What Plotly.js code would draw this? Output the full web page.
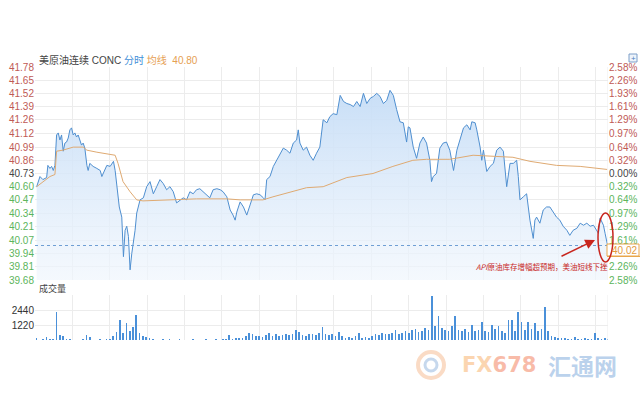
<!DOCTYPE html>
<html>
<head>
<meta charset="utf-8">
<script src="https://cdn.plot.ly/plotly-3.0.1.min.js"></script>
<style>
html,body{margin:0;padding:0;background:#fff;}
#chart{width:640px;height:400px;}
</style>
</head>
<body>
<div id="chart"></div>
<script>
// time in minutes from session open (23h session)
const times = [4,12,19,28,31,36,40,44,48,52,56,60,64,68,72,76,80,84,88,92,96,100,104,108,112,116,120,125,128,132,140,149,157,161,164,173,181,185,189,193,198,203,209,213,217,221,225,229,233,237,241,245,249,253,261,269,277,285,293,301,309,317,325,333,341,349,357,365,373,381,389,397,405,413,421,429,438,446,453,462,470,477,482,486,494,502,510,518,526,534,542,550,554,558,566,574,582,590,598,606,614,622,630,634,638,646,654,662,670,678,686,694,703,710,718,727,735,743,751,759,767,775,783,791,799,807,815,823,831,839,847,855,863,871,879,887,895,899,903,911,919,927,935,943,951,955,959,967,971,975,983,991,999,1008,1016,1024,1032,1040,1048,1052,1060,1064,1072,1076,1080,1088,1096,1104,1112,1120,1128,1136,1144,1152,1160,1164,1168,1176,1184,1192,1200,1204,1208,1216,1224,1232,1240,1248,1256,1264,1272,1281,1288,1296,1305,1313,1321,1329,1337,1345,1353,1357,1361,1369,1373,1377,1379];
const price = [40.60,40.70,40.67,40.69,40.81,40.78,40.80,40.76,40.81,41.11,41.13,41.06,41.11,40.95,41.03,41.04,41.08,41.16,41.18,41.11,41.13,41.09,41.11,41.06,41.01,41.03,40.98,40.81,40.76,40.83,40.80,40.78,40.76,40.70,40.73,40.81,40.80,40.83,40.85,40.76,40.60,40.40,40.30,39.91,40.17,40.21,40.11,39.78,39.94,40.04,40.17,40.34,40.40,40.47,40.49,40.60,40.65,40.53,40.60,40.67,40.63,40.57,40.60,40.55,40.44,40.47,40.49,40.47,40.55,40.53,40.57,40.58,40.55,40.52,40.49,40.57,40.58,40.57,40.55,40.50,40.37,40.32,40.27,40.35,40.45,40.40,40.32,40.42,40.52,40.53,40.52,40.49,40.47,40.67,40.70,40.80,40.86,40.91,40.98,40.96,40.93,41.03,41.06,41.16,41.03,40.96,40.99,40.91,40.86,40.93,40.99,41.26,41.23,41.29,41.32,41.31,41.50,41.44,41.42,41.41,41.39,41.44,41.39,41.52,41.42,41.47,41.49,41.52,41.49,41.42,41.45,41.55,41.50,41.36,41.24,41.23,41.04,41.19,41.18,40.99,40.88,41.03,41.09,41.03,40.86,40.65,40.70,40.73,40.86,40.98,41.03,41.04,40.96,40.76,40.96,41.08,41.18,41.21,41.16,41.24,41.23,41.16,40.99,40.86,40.96,40.75,40.80,40.83,40.96,40.99,40.95,40.60,40.83,40.83,40.86,40.70,40.47,40.50,40.53,40.27,40.09,40.27,40.30,40.24,40.37,40.40,40.40,40.35,40.30,40.27,40.21,40.17,40.12,40.17,40.19,40.24,40.22,40.24,40.21,40.22,40.17,40.14,40.29,40.22,40.14,40.04,40.02];
const avgTimes = [4,19,36,48,52,67,92,116,125,149,193,200,212,229,245,260,308,389,462,494,549,573,654,694,751,814,862,910,943,999,1055,1151,1192,1256,1313,1378];
const avgPrice = [40.60,40.65,40.70,40.72,40.95,40.96,40.99,40.99,40.96,40.94,40.91,40.83,40.65,40.55,40.47,40.46,40.47,40.48,40.48,40.47,40.47,40.50,40.59,40.60,40.69,40.73,40.80,40.86,40.87,40.87,40.91,40.89,40.85,40.81,40.80,40.77];
// volume per 8-minute bucket
const volume = [150,40,60,250,80,120,2250,400,300,50,60,30,40,20,60,420,250,40,20,80,30,100,60,350,650,1650,600,1400,700,1050,2050,550,300,250,150,100,40,30,60,20,50,30,20,60,20,40,30,80,20,40,30,60,40,30,80,40,50,120,420,60,150,200,180,300,550,480,300,350,250,400,550,300,480,350,420,500,380,450,800,650,400,350,500,450,400,550,1050,450,380,500,350,650,300,200,250,150,300,550,200,250,150,350,450,400,600,500,450,550,800,500,600,700,550,800,900,650,750,950,800,3600,1100,1950,1000,850,700,1100,1950,800,750,900,650,1200,700,800,1450,750,650,1200,900,1100,700,600,1650,1600,700,2250,1450,800,1450,900,1400,700,900,2650,700,300,250,150,200,150,100,120,250,100,80,200,60,100,550,150,80,200,120];

const priceTicks = [41.78,41.65,41.52,41.39,41.26,41.12,40.99,40.86,40.73,40.60,40.47,40.34,40.21,40.07,39.94,39.81,39.68];
const pctTicks = ['2.58%','2.26%','1.93%','1.61%','1.29%','0.97%','0.64%','0.32%','0.00%','0.32%','0.64%','0.97%','1.29%','1.61%','','2.26%','2.58%'];
const volTicks = [0,1220,2440,3660];
const volTickText = ['','1220','2440',''];
const lastPrice = 40.02;
const prevClose = 40.73;

const RED = '#c05a55', GREEN = '#5cb55c', DARK = '#444';
function colorFor(v){ return v > prevClose + 1e-9 ? RED : (v < prevClose - 1e-9 ? GREEN : DARK); }
const leftText = priceTicks.map(v => '<span style="color:' + colorFor(v) + '">' + v.toFixed(2) + '</span>');
const rightText = priceTicks.map((v,i) => '<span style="color:' + colorFor(v) + '">' + pctTicks[i] + '</span>');

// px helpers for paper coords (plot area x: 35..608, full height 400)
const PL = 35, PW = 573, H = 400;
const px = x => (x - PL) / PW;
const py = y => 1 - y / H;

const traces = [
  {
    x: times, y: price, type: 'scatter', mode: 'lines',
    line: {color: '#4f8fd0', width: 1},
    fill: 'tozeroy',
    fillgradient: {type: 'vertical', start: 39.68, stop: 41.6,
      colorscale: [[0, 'rgba(240,246,253,0.7)'], [1, 'rgba(196,220,246,0.95)']]},
    xaxis: 'x', yaxis: 'y', hoverinfo: 'skip', showlegend: false
  },
  {
    x: avgTimes, y: avgPrice, type: 'scatter', mode: 'lines',
    line: {color: '#dfaa72', width: 1},
    xaxis: 'x', yaxis: 'y', hoverinfo: 'skip', showlegend: false
  },
  {
    x: times, y: price, type: 'scatter', mode: 'lines', opacity: 0,
    line: {width: 0}, xaxis: 'x', yaxis: 'y3', hoverinfo: 'skip', showlegend: false
  },
  {
    y: volume, x0: 4, dx: 8, type: 'bar', width: 4,
    marker: {color: '#4a90d9', line: {width: 0}},
    xaxis: 'x2', yaxis: 'y2', hoverinfo: 'skip', showlegend: false
  }
];

const gridC = '#ececec';
const tickFont = {family: 'Arial, "Liberation Sans", sans-serif', size: 10};

const layout = {
  width: 640, height: 400,
  margin: {l: PL, r: 640 - PL - PW, t: 0, b: 0},
  paper_bgcolor: '#fff', plot_bgcolor: '#fff',
  bargap: 0,
  xaxis: {domain: [0, 1], range: [0, 1380], dtick: 90, tick0: 0, showticklabels: false,
    showgrid: true, gridcolor: gridC, zeroline: false, showline: false, anchor: 'y', fixedrange: true},
  yaxis: {domain: [py(280), py(67)], range: [39.68, 41.78], tickmode: 'array',
    tickvals: priceTicks, ticktext: leftText, tickfont: tickFont, ticks: '', ticklen: 0,
    showgrid: true, gridcolor: gridC, zeroline: false, showline: false, anchor: 'x'},
  yaxis3: {overlaying: 'y', side: 'right', range: [39.68, 41.78], tickmode: 'array',
    tickvals: priceTicks, ticktext: rightText, tickfont: tickFont, showgrid: false,
    zeroline: false, showline: false, anchor: 'x'},
  xaxis2: {domain: [0, 1], range: [0, 1380], dtick: 90, tick0: 0, showticklabels: false,
    showgrid: true, gridcolor: gridC, zeroline: false, showline: false, anchor: 'y2'},
  yaxis2: {domain: [py(340), py(295)], range: [0, 3660], tickmode: 'array',
    tickvals: volTicks, ticktext: volTickText, tickfont: Object.assign({}, tickFont, {color: '#333'}),
    showgrid: true, gridcolor: gridC, zeroline: false, showline: false, anchor: 'x2'},
  shapes: [
    {type: 'line', xref: 'x', yref: 'y', x0: 1380, x1: 1380, y0: 39.68, y1: 41.78, line: {color: gridC, width: 1}},
    {type: 'line', xref: 'x2', yref: 'y2', x0: 1380, x1: 1380, y0: 0, y1: 3660, line: {color: gridC, width: 1}},
    {type: 'line', xref: 'x', yref: 'y', x0: 0, x1: 1380, y0: lastPrice, y1: lastPrice,
      line: {color: '#6f9fd4', width: 1, dash: 'dot'}},
    {type: 'rect', xref: 'paper', yref: 'paper', x0: px(607), x1: px(639), y0: py(256), y1: py(244),
      fillcolor: '#fff', line: {color: '#e8a64c', width: 1}},
    {type: 'line', xref: 'paper', yref: 'paper', x0: px(607), x1: px(640), y0: py(256.5), y1: py(256.5),
      line: {color: '#e8a64c', width: 1}},
    {type: 'circle', xref: 'paper', yref: 'paper', x0: px(598), x1: px(613), y0: py(262), y1: py(213),
      line: {color: '#c8261e', width: 1.5}},
    {type: 'rect', xref: 'paper', yref: 'paper', x0: px(629), x1: px(637), y0: py(62), y1: py(54),
      line: {color: '#7d9ec8', width: 1}, fillcolor: '#eef4fb'},
    {type: 'circle', xref: 'paper', yref: 'paper', x0: px(418), x1: px(444), y0: py(378), y1: py(352),
      line: {color: 'rgba(245,190,150,0.55)', width: 4}},
    {type: 'circle', xref: 'paper', yref: 'paper', x0: px(425), x1: px(437), y0: py(371), y1: py(359),
      line: {color: 'rgba(160,190,225,0.6)', width: 3}}
  ],
  annotations: [
    {xref: 'paper', yref: 'paper', x: px(37), y: py(60), xanchor: 'left', yanchor: 'middle', showarrow: false,
      text: '美原油连续 CONC <span style="color:#3f8fd8">分时</span> <span style="color:#e6a052">均线</span>  <span style="color:#e6a052">40.80</span>',
      font: {family: 'Arial, "Noto Sans CJK SC", sans-serif', size: 10, color: '#444'}},
    {xref: 'paper', yref: 'paper', x: px(37), y: py(288), xanchor: 'left', yanchor: 'middle', showarrow: false,
      text: '成交量', font: {family: 'Arial, "Noto Sans CJK SC", sans-serif', size: 9, color: '#444'}},
    {xref: 'paper', yref: 'paper', x: px(610), y: py(250), xanchor: 'left', yanchor: 'middle', showarrow: false,
      text: lastPrice.toFixed(2), font: {family: 'Arial, "Liberation Sans", sans-serif', size: 10, color: '#e39a3c'}},
    {xref: 'paper', yref: 'paper', x: px(633), y: py(58), xanchor: 'center', yanchor: 'middle', showarrow: false,
      text: '+', font: {family: 'Arial', size: 8, color: '#4f7fbf'}},
    {xref: 'paper', yref: 'paper', x: px(595), y: py(240), ax: -35, ay: 17, showarrow: true,
      arrowhead: 2, arrowsize: 1.3, arrowwidth: 1.5, arrowcolor: '#c8261e', text: ''},
    {xref: 'paper', yref: 'paper', x: px(610), y: py(266), xanchor: 'right', yanchor: 'middle', showarrow: false,
      text: '<i>API</i>原油库存增幅超预期，美油短线下挫',
      font: {family: '"Noto Sans CJK SC", sans-serif', size: 7.5, color: '#c8261e'}},
    {xref: 'paper', yref: 'paper', x: px(460), y: py(365), xanchor: 'left', yanchor: 'middle', showarrow: false,
      text: '<b><span style="color:rgba(250,200,150,0.75)">FX</span><span style="color:rgba(246,165,140,0.75)">678</span></b>',
      font: {family: '"DejaVu Sans", Arial, sans-serif', size: 21}},
    {xref: 'paper', yref: 'paper', x: px(546), y: py(365), xanchor: 'left', yanchor: 'middle', showarrow: false,
      text: '<b>汇通网</b>', font: {family: '"Noto Sans CJK SC", sans-serif', size: 23, color: 'rgba(165,195,230,0.75)'}}
  ]
};

Plotly.newPlot('chart', traces, layout, {staticPlot: true, displayModeBar: false});
</script>
</body>
</html>
